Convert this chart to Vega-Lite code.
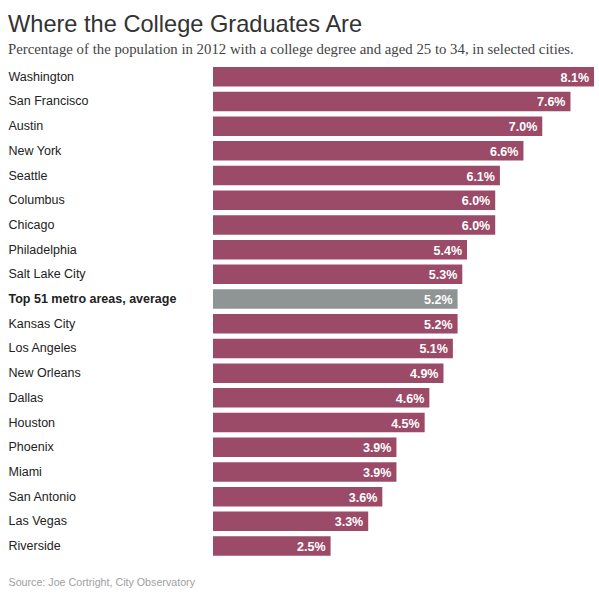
{
  "$schema": "https://vega.github.io/schema/vega-lite/v6.json",
  "width": 381,
  "height": 494,
  "autosize": {"type": "none"},
  "padding": {"left": 213, "top": 64.4, "right": 5, "bottom": 34.6},
  "background": "white",
  "title": {
    "text": "Where the College Graduates Are",
    "subtitle": "Percentage of the population in 2012 with a college degree and aged 25 to 34, in selected cities.",
    "anchor": "start",
    "frame": "bounds",
    "offset": 8,
    "font": "Liberation Sans",
    "fontSize": 23.6,
    "fontWeight": "normal",
    "color": "#333333",
    "subtitleFont": "Liberation Serif",
    "subtitleFontSize": 14.8,
    "subtitleColor": "#444444",
    "subtitlePadding": 5
  },
  "data": {
    "values": [
      {"city": "Washington", "share": 0.081, "group": "city"},
      {"city": "San Francisco", "share": 0.076, "group": "city"},
      {"city": "Austin", "share": 0.070, "group": "city"},
      {"city": "New York", "share": 0.066, "group": "city"},
      {"city": "Seattle", "share": 0.061, "group": "city"},
      {"city": "Columbus", "share": 0.060, "group": "city"},
      {"city": "Chicago", "share": 0.060, "group": "city"},
      {"city": "Philadelphia", "share": 0.054, "group": "city"},
      {"city": "Salt Lake City", "share": 0.053, "group": "city"},
      {"city": "Top 51 metro areas, average", "share": 0.052, "group": "average"},
      {"city": "Kansas City", "share": 0.052, "group": "city"},
      {"city": "Los Angeles", "share": 0.051, "group": "city"},
      {"city": "New Orleans", "share": 0.049, "group": "city"},
      {"city": "Dallas", "share": 0.046, "group": "city"},
      {"city": "Houston", "share": 0.045, "group": "city"},
      {"city": "Phoenix", "share": 0.039, "group": "city"},
      {"city": "Miami", "share": 0.039, "group": "city"},
      {"city": "San Antonio", "share": 0.036, "group": "city"},
      {"city": "Las Vegas", "share": 0.033, "group": "city"},
      {"city": "Riverside", "share": 0.025, "group": "city"}
    ]
  },
  "encoding": {
    "y": {
      "field": "city",
      "type": "nominal",
      "sort": null,
      "scale": {"paddingInner": 0.21, "paddingOuter": 0.105},
      "axis": {
        "title": null,
        "domain": false,
        "ticks": false,
        "labelAlign": "left",
        "labelPadding": 205,
        "labelFont": "Liberation Sans",
        "labelFontSize": 12.5,
        "labelColor": "#222222",
        "labelLimit": 300,
        "labelFontWeight": {"condition": {"test": "datum.value === 'Top 51 metro areas, average'", "value": "bold"}, "value": "normal"}
      }
    },
    "x": {
      "field": "share",
      "type": "quantitative",
      "scale": {"domain": [0, 0.081], "nice": false, "zero": true},
      "axis": {
        "domain": false,
        "ticks": false,
        "labels": false,
        "grid": false,
        "title": "Source: Joe Cortright, City Observatory",
        "titleX": -205,
        "titleY": 27,
        "titleAlign": "left",
        "titleBaseline": "alphabetic",
        "titleFont": "Liberation Sans",
        "titleFontSize": 10.7,
        "titleFontWeight": "normal",
        "titleColor": "#a0a0a0"
      }
    }
  },
  "layer": [
    {
      "mark": {"type": "bar"},
      "encoding": {
        "color": {
          "field": "group",
          "type": "nominal",
          "scale": {"domain": ["city", "average"], "range": ["#9b4a68", "#8f9595"]},
          "legend": null
        }
      }
    },
    {
      "mark": {"type": "text", "align": "right", "baseline": "middle", "dx": -5, "dy": 1, "color": "white", "font": "Liberation Sans", "fontSize": 12.5, "fontWeight": "bold"},
      "encoding": {
        "text": {"field": "share", "type": "quantitative", "format": ".1%"}
      }
    }
  ],
  "config": {"view": {"stroke": null}}
}
